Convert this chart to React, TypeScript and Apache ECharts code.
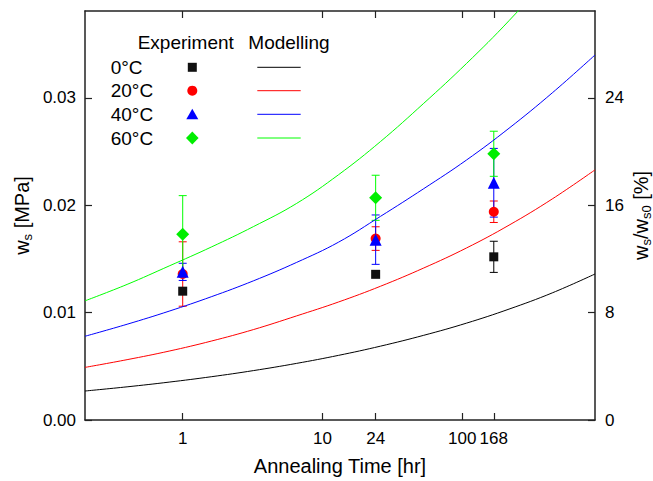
import React, { useEffect, useRef } from "react";
import * as echarts from "echarts";

const FONT = "'Liberation Sans', Arial, Helvetica, sans-serif";

const seriesNames = ["0°C", "20°C", "40°C", "60°C"];
const colors = ["#111111", "#ff0000", "#0000ff", "#00ee00"];
const lineColors = ["#000000", "#ff0000", "#0000ff", "#00ff00"];
const symbols = ["rect", "circle", "triangle", "diamond"];
const symbolSizes = [9, 10, 12, 13];

// Experiment (annealing time in hours)
const expTimes = [1, 24, 168];
const exp0 = [0.012, 0.01357, 0.0152];
const exp20 = [0.0136, 0.0169, 0.0194];
const exp40 = [0.0138, 0.0168, 0.0221];
const exp60 = [0.0173, 0.0207, 0.0248];
const err0 = [0, 0, 0.00145];
const err20 = [0.003, 0.0011, 0.001];
const err40 = [0.0008, 0.0023, 0.0032];
const err60 = [0.0036, 0.0021, 0.0021];

// Modelling curves
const modelTimes = [0.2, 0.4, 0.8, 1.6, 3.2, 6.5, 13, 26, 53, 107, 216, 440, 890];
const model0 = [0.0027, 0.00309, 0.00353, 0.00403, 0.0046, 0.00527, 0.00602, 0.00688, 0.00789, 0.00902, 0.01033, 0.01184, 0.0136];
const model20 = [0.0049, 0.00562, 0.00642, 0.00735, 0.00842, 0.00969, 0.01099, 0.01246, 0.01416, 0.01602, 0.01815, 0.02059, 0.0233];
const model40 = [0.0078, 0.00892, 0.01014, 0.01148, 0.01296, 0.01467, 0.01656, 0.01897, 0.02155, 0.02421, 0.02718, 0.03047, 0.034];
const model60 = [0.0111, 0.01263, 0.01435, 0.01611, 0.01801, 0.02016, 0.02284, 0.02594, 0.0295, 0.0332, 0.0372, 0.0417, 0.0468];

const xTickValues = [1, 10, 24, 100, 168];
const yLeftTicks = [0, 0.01, 0.02, 0.03];
const yRightTicks = [0, 8, 16, 24];
const xMin = 0.2;
const xMax = 890;
const yMax = 0.0381;
const ws0 = 0.125; // MPa, reference for right axis (%)

const expVals = [exp0, exp20, exp40, exp60];
const expErrs = [err0, err20, err40, err60];
const modelVals = [model0, model20, model40, model60];

const lg = (v: number) => Math.log10(v);

function errorSeries(vals: number[], errs: number[], color: string) {
  const data = expTimes
    .map((t, i) => [lg(t), vals[i] - errs[i], vals[i] + errs[i], errs[i]])
    .filter((d) => d[3] > 0);
  return {
    type: "custom",
    xAxisIndex: 0,
    yAxisIndex: 0,
    silent: true,
    z: 1,
    encode: { x: 0, y: [1, 2] },
    data,
    renderItem: (_params: any, api: any) => {
      const x = api.value(0);
      const lo = api.coord([x, api.value(1)]);
      const hi = api.coord([x, api.value(2)]);
      const w = 4;
      const style = { stroke: color, lineWidth: 1, fill: null };
      return {
        type: "group",
        children: [
          { type: "line", shape: { x1: lo[0], y1: lo[1], x2: hi[0], y2: hi[1] }, style },
          { type: "line", shape: { x1: lo[0] - w, y1: lo[1], x2: lo[0] + w, y2: lo[1] }, style },
          { type: "line", shape: { x1: hi[0] - w, y1: hi[1], x2: hi[0] + w, y2: hi[1] }, style },
        ],
      };
    },
  };
}

export default function App() {
  const ref = useRef<HTMLDivElement>(null);
  useEffect(() => {
    if (!ref.current) return;
    const chart = echarts.init(ref.current, undefined, { renderer: "svg" });

    const axisLine = { show: true, onZero: false, lineStyle: { color: "#222", width: 1.5 } };
    const tickStyle = { color: "#222", width: 1.2 };

    const lines = modelVals.map((vals, k) => ({
      type: "line",
      name: seriesNames[k] + " model",
      xAxisIndex: 0,
      yAxisIndex: 0,
      data: modelTimes.map((t, i) => [lg(t), vals[i]]),
      showSymbol: false,
      smooth: 0.4,
      clip: true,
      lineStyle: { color: lineColors[k], width: 1 },
      z: 2,
    }));

    const errs = expVals.map((vals, k) => errorSeries(vals, expErrs[k], lineColors[k]));

    const scatters = expVals.map((vals, k) => ({
      type: "scatter",
      name: seriesNames[k],
      xAxisIndex: 0,
      yAxisIndex: 0,
      data: expTimes.map((t, i) => [lg(t), vals[i]]),
      symbol: symbols[k],
      symbolSize: symbolSizes[k],
      itemStyle: { color: colors[k], opacity: 1 },
      z: 3 + k,
    }));

    const legendX = 110.7;
    const markerX = 192.3;
    const rowY = [67.3, 90.7, 114.3, 138];
    const txt = (text: string, x: number, y: number) => ({
      type: "text",
      x,
      y,
      style: { text, fill: "#000", font: `19px ${FONT}`, verticalAlign: "middle", align: "left" },
      z: 10,
    });
    const graphics: any[] = [txt("Experiment", 137.7, 42.7), txt("Modelling", 248.3, 42.7)];
    seriesNames.forEach((n, k) => {
      const y = rowY[k];
      graphics.push(txt(n, legendX, y));
      graphics.push({
        type: "line",
        shape: { x1: 257.3, y1: y, x2: 300.7, y2: y },
        style: { stroke: lineColors[k], lineWidth: 1 },
        z: 10,
      });
    });
    graphics.push({ type: "rect", shape: { x: markerX - 4.5, y: rowY[0] - 4.5, width: 9, height: 9 }, style: { fill: colors[0] }, z: 10 });
    graphics.push({ type: "circle", shape: { cx: markerX, cy: rowY[1], r: 5 }, style: { fill: colors[1] }, z: 10 });
    graphics.push({
      type: "polygon",
      shape: { points: [[markerX - 6, rowY[2] + 5], [markerX + 6, rowY[2] + 5], [markerX, rowY[2] - 5.5]] },
      style: { fill: colors[2] },
      z: 10,
    });
    graphics.push({
      type: "polygon",
      shape: { points: [[markerX, rowY[3] - 6.5], [markerX + 6.3, rowY[3]], [markerX, rowY[3] + 6.5], [markerX - 6.3, rowY[3]]] },
      style: { fill: colors[3] },
      z: 10,
    });

    const rich = {
      m: { fontSize: 20, lineHeight: 22, color: "#000", fontFamily: FONT, verticalAlign: "top" },
      s: { fontSize: 13, lineHeight: 13, color: "#000", fontFamily: FONT, verticalAlign: "bottom" },
    };

    chart.setOption({
      animation: false,
      backgroundColor: "#fff",
      textStyle: { fontFamily: FONT },
      grid: { left: 85, right: 58, top: 11, bottom: 61, containLabel: false, outerBoundsMode: "none" },
      xAxis: [
        {
          type: "value",
          position: "bottom",
          min: lg(xMin),
          max: lg(xMax),
          axisLine,
          axisTick: { show: true, inside: true, length: 7, lineStyle: tickStyle, customValues: xTickValues.map(lg) },
          axisLabel: {
            customValues: xTickValues.map(lg),
            formatter: (v: number) => String(Math.round(Math.pow(10, v))),
            fontSize: 17,
            color: "#000",
            fontFamily: FONT,
            margin: 10,
          },
          splitLine: { show: false },
          name: "Annealing Time [hr]",
          nameLocation: "middle",
          nameGap: 36,
          nameMoveOverlap: false,
          nameTextStyle: { fontSize: 20, color: "#000", fontFamily: FONT },
        },
        {
          type: "value",
          position: "top",
          min: lg(xMin),
          max: lg(xMax),
          axisLine,
          axisTick: { show: true, inside: true, length: 7, lineStyle: tickStyle, customValues: xTickValues.map(lg) },
          axisLabel: { show: false },
          splitLine: { show: false },
        },
      ],
      yAxis: [
        {
          type: "value",
          position: "left",
          min: 0,
          max: yMax,
          axisLine,
          axisTick: { show: true, inside: true, length: 7, lineStyle: tickStyle, customValues: yLeftTicks },
          axisLabel: {
            customValues: yLeftTicks,
            formatter: (v: number) => v.toFixed(2),
            fontSize: 17,
            color: "#000",
            fontFamily: FONT,
            margin: 9,
          },
          splitLine: { show: false },
          name: "{m|w}{s|s}{m| [MPa]}",
          nameLocation: "middle",
          nameRotate: 90,
          nameGap: 51,
          nameMoveOverlap: false,
          nameTextStyle: { fontSize: 20, color: "#000", fontFamily: FONT, rich },
        },
        {
          type: "value",
          position: "right",
          min: 0,
          max: (yMax / ws0) * 100,
          axisLine,
          axisTick: { show: true, inside: true, length: 7, lineStyle: tickStyle, customValues: yRightTicks },
          axisLabel: {
            customValues: yRightTicks,
            formatter: (v: number) => String(Math.round(v)),
            fontSize: 17,
            color: "#000",
            fontFamily: FONT,
            margin: 10,
          },
          splitLine: { show: false },
          name: "{m|w}{s|s}{m|/w}{s|s0}{m| [%]}",
          nameLocation: "middle",
          nameRotate: 90,
          nameGap: 36,
          nameMoveOverlap: false,
          nameTextStyle: { fontSize: 20, color: "#000", fontFamily: FONT, rich },
        },
      ],
      graphic: graphics,
      series: [...lines, ...errs, ...scatters],
    });
    return () => chart.dispose();
  }, []);
  return <div ref={ref} style={{ position: "fixed", left: 0, top: 0, width: 653, height: 481 }} />;
}
